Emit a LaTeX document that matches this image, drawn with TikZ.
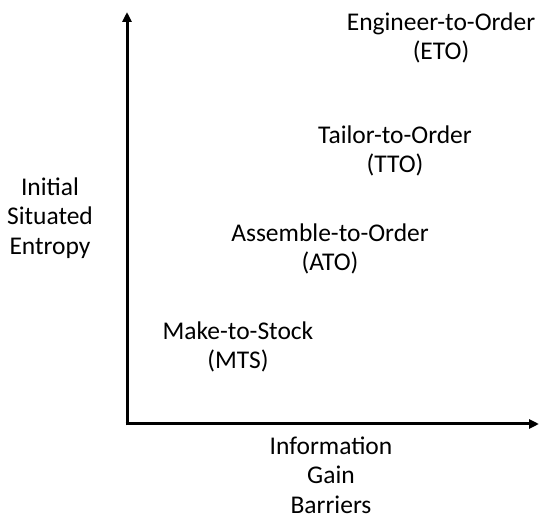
\documentclass[tikz,border=0pt]{standalone}
\usepackage{fontspec}
\setmainfont{Carlito}
\usetikzlibrary{arrows.meta}
\begin{document}
\begin{tikzpicture}[x=1pt,y=-1pt,
  lbl/.style={align=center,font=\fontsize{25.5}{29.5}\selectfont,inner sep=0pt},
  axis/.style={line width=3pt,-{Triangle[length=10pt,width=9pt]}}]
\useasboundingbox (0,0) rectangle (539,521);
\coordinate (o) at (127,424);
\coordinate (ytip) at (127,12);
\coordinate (xtip) at (539,424);
\draw[axis] ([yshift=-1.5pt]o) -- (ytip);
\draw[axis] ([xshift=-1.5pt]o) -- (xtip);
\node[lbl] (eto) at (441,38) {Engineer-to-Order\\(ETO)};
\node[lbl] (tto) at (395,151) {Tailor-to-Order\\(TTO)};
\node[lbl] (ato) at (330,249) {Assemble-to-Order\\(ATO)};
\node[lbl] (mts) at (238,347) {Make-to-Stock\\(MTS)};
\node[lbl] (ylab) at (50,218) {Initial\\Situated\\Entropy};
\node[lbl] (xlab) at (331,475) {Information\\Gain\\Barriers};
\end{tikzpicture}
\end{document}
